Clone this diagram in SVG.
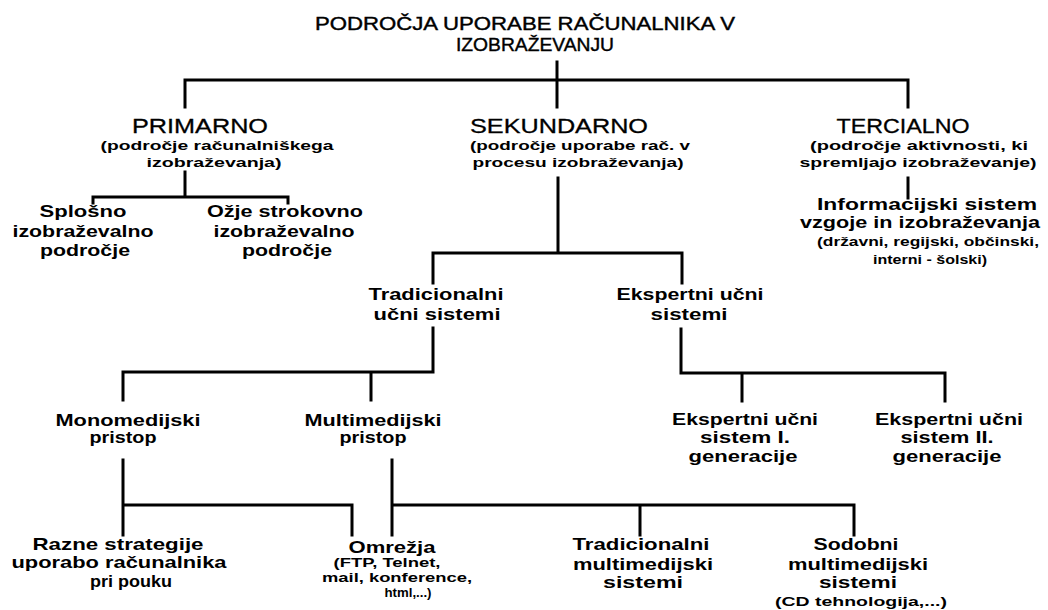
<svg xmlns="http://www.w3.org/2000/svg" width="1048" height="610" viewBox="0 0 1048 610">
<style>
text{font-family:"Liberation Sans",Arial,sans-serif;font-weight:bold;font-size:17px;text-anchor:middle;fill:#000}
.ttl{font-weight:normal;font-size:18px;stroke:#000;stroke-width:0.4}
.h{font-weight:normal;font-size:21px;stroke:#000;stroke-width:0.3}
.s{font-size:12.5px}
.xs{font-size:12px}
.c{fill:none;stroke:#000;stroke-width:3;stroke-linecap:square}
</style>
<rect width="1048" height="610" fill="#fff"/>
<g id="connectors" class="c">
<path d="M557,62 V107"/>
<path d="M185,107 V80 H908 V107"/>
<path d="M185,172 V197 M93,203 V197 H288 V203"/>
<path d="M908,178 V198"/>
<path d="M558,178 V253 M433,283 V253 H682 V283"/>
<path d="M433,328 V372 M123,400 V372 H433 M371,372 V400"/>
<path d="M681,329 V373 H945 V401 M742,373 V401"/>
<path d="M123,460 V535 M123,505 H352 V535"/>
<path d="M392,460 V535 M392,505 H854 V535 M640,505 V535"/>
</g>
<g id="title">
<text class="ttl" x="525" y="30" textLength="420" lengthAdjust="spacingAndGlyphs">PODROČJA UPORABE RAČUNALNIKA V</text>
<text class="ttl" x="535" y="51" textLength="158" lengthAdjust="spacingAndGlyphs">IZOBRAŽEVANJU</text>
</g>
<g id="primarno">
<text class="h" x="200" y="133" textLength="136" lengthAdjust="spacingAndGlyphs">PRIMARNO</text>
<text class="s" x="217" y="150" textLength="233" lengthAdjust="spacingAndGlyphs">(področje računalniškega</text>
<text class="s" x="214" y="167" textLength="135" lengthAdjust="spacingAndGlyphs">izobraževanja)</text>
</g>
<g id="sekundarno">
<text class="h" x="559" y="133" textLength="178" lengthAdjust="spacingAndGlyphs">SEKUNDARNO</text>
<text class="s" x="580" y="150" textLength="220" lengthAdjust="spacingAndGlyphs">(področje uporabe rač. v</text>
<text class="s" x="578" y="167" textLength="211" lengthAdjust="spacingAndGlyphs">procesu izobraževanja)</text>
</g>
<g id="tercialno">
<text class="h" x="903" y="133" textLength="133" lengthAdjust="spacingAndGlyphs">TERCIALNO</text>
<text class="s" x="919" y="150" textLength="218" lengthAdjust="spacingAndGlyphs">(področje aktivnosti, ki</text>
<text class="s" x="918" y="167" textLength="237" lengthAdjust="spacingAndGlyphs">spremljajo izobraževanje)</text>
</g>
<g id="splosno">
<text x="83" y="217" textLength="87" lengthAdjust="spacingAndGlyphs">Splošno</text>
<text x="83" y="237" textLength="141" lengthAdjust="spacingAndGlyphs">izobraževalno</text>
<text x="85" y="256" textLength="90" lengthAdjust="spacingAndGlyphs">področje</text>
</g>
<g id="ozje">
<text x="285" y="217" textLength="156" lengthAdjust="spacingAndGlyphs">Ožje strokovno</text>
<text x="284" y="237" textLength="141" lengthAdjust="spacingAndGlyphs">izobraževalno</text>
<text x="287" y="256" textLength="90" lengthAdjust="spacingAndGlyphs">področje</text>
</g>
<g id="informacijski">
<text x="927" y="210" textLength="220" lengthAdjust="spacingAndGlyphs">Informacijski sistem</text>
<text x="920" y="228" textLength="240" lengthAdjust="spacingAndGlyphs">vzgoje in izobraževanja</text>
<text class="s" x="928" y="246" textLength="222" lengthAdjust="spacingAndGlyphs">(državni, regijski, občinski,</text>
<text class="s" x="930" y="264" textLength="114" lengthAdjust="spacingAndGlyphs">interni - šolski)</text>
</g>
<g id="tradicionalni">
<text x="436" y="300" textLength="135" lengthAdjust="spacingAndGlyphs">Tradicionalni</text>
<text x="437" y="320" textLength="127" lengthAdjust="spacingAndGlyphs">učni sistemi</text>
</g>
<g id="ekspertni">
<text x="690" y="300" textLength="147" lengthAdjust="spacingAndGlyphs">Ekspertni učni</text>
<text x="689" y="320" textLength="77" lengthAdjust="spacingAndGlyphs">sistemi</text>
</g>
<g id="monomedijski">
<text x="128" y="426" textLength="145" lengthAdjust="spacingAndGlyphs">Monomedijski</text>
<text x="123" y="443" textLength="67" lengthAdjust="spacingAndGlyphs">pristop</text>
</g>
<g id="multimedijski">
<text x="373" y="426" textLength="137" lengthAdjust="spacingAndGlyphs">Multimedijski</text>
<text x="373" y="443" textLength="67" lengthAdjust="spacingAndGlyphs">pristop</text>
</g>
<g id="ekspertni1">
<text x="745" y="425" textLength="146" lengthAdjust="spacingAndGlyphs">Ekspertni učni</text>
<text x="745" y="443" textLength="90" lengthAdjust="spacingAndGlyphs">sistem I.</text>
<text x="743" y="462" textLength="109" lengthAdjust="spacingAndGlyphs">generacije</text>
</g>
<g id="ekspertni2">
<text x="949" y="425" textLength="148" lengthAdjust="spacingAndGlyphs">Ekspertni učni</text>
<text x="947" y="443" textLength="93" lengthAdjust="spacingAndGlyphs">sistem II.</text>
<text x="947" y="462" textLength="109" lengthAdjust="spacingAndGlyphs">generacije</text>
</g>
<g id="razne">
<text x="118" y="550" textLength="171" lengthAdjust="spacingAndGlyphs">Razne strategije</text>
<text x="119" y="568" textLength="215" lengthAdjust="spacingAndGlyphs">uporabo računalnika</text>
<text x="131" y="587" textLength="82" lengthAdjust="spacingAndGlyphs">pri pouku</text>
</g>
<g id="omrezja">
<text x="392" y="553" textLength="87" lengthAdjust="spacingAndGlyphs">Omrežja</text>
<text class="xs" x="387" y="567" textLength="107" lengthAdjust="spacingAndGlyphs">(FTP, Telnet,</text>
<text class="xs" x="397" y="582" textLength="150" lengthAdjust="spacingAndGlyphs">mail, konference,</text>
<text class="xs" x="408" y="597" textLength="47" lengthAdjust="spacingAndGlyphs">html,...)</text>
</g>
<g id="tradmulti">
<text x="641" y="550" textLength="137" lengthAdjust="spacingAndGlyphs">Tradicionalni</text>
<text x="643" y="570" textLength="140" lengthAdjust="spacingAndGlyphs">multimedijski</text>
<text x="643" y="588" textLength="80" lengthAdjust="spacingAndGlyphs">sistemi</text>
</g>
<g id="sodobni">
<text x="856" y="550" textLength="85" lengthAdjust="spacingAndGlyphs">Sodobni</text>
<text x="858" y="570" textLength="140" lengthAdjust="spacingAndGlyphs">multimedijski</text>
<text x="858" y="588" textLength="78" lengthAdjust="spacingAndGlyphs">sistemi</text>
<text class="s" x="861" y="606" textLength="172" lengthAdjust="spacingAndGlyphs">(CD tehnologija,...)</text>
</g>
</svg>
